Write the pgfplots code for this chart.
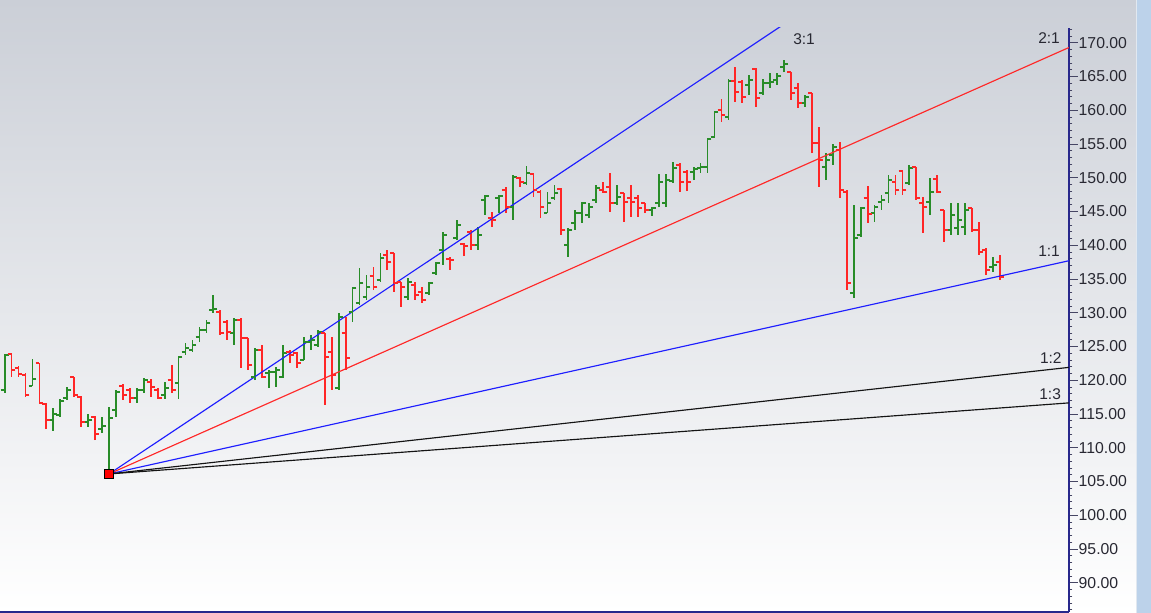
\documentclass[border=0pt]{standalone}
\usepackage{fontspec}
\setmainfont{Liberation Sans}
\usepackage{pgfplots}
\usepackage{pgfplotstable}
\pgfplotsset{compat=1.18}

\definecolor{upgreen}{RGB}{40,140,40}
\definecolor{downred}{RGB}{255,38,38}
\definecolor{fanblue}{RGB}{30,30,255}
\definecolor{fanred}{RGB}{255,40,40}
\definecolor{fanblack}{RGB}{20,20,20}
\definecolor{axisnavy}{RGB}{40,40,140}
\definecolor{tickgray}{RGB}{70,70,100}
\definecolor{bgtop}{RGB}{203,207,215}
\definecolor{strip}{RGB}{188,210,234}
\definecolor{stripedge}{RGB}{225,232,240}
\definecolor{labeltext}{RGB}{40,40,50}

% open tick (left) and close tick (right) of an OHLC bar
\pgfdeclareplotmark{tickleft}{%
  \pgfpathmoveto{\pgfqpoint{-\pgfplotmarksize}{0pt}}%
  \pgfpathlineto{\pgfqpoint{0pt}{0pt}}%
  \pgfusepathqstroke}
\pgfdeclareplotmark{tickright}{%
  \pgfpathmoveto{\pgfqpoint{\pgfplotmarksize}{0pt}}%
  \pgfpathlineto{\pgfqpoint{0pt}{0pt}}%
  \pgfusepathqstroke}

% bars that closed above their open
\pgfplotstableread{
i o h l c
0 118.55 123.89 118.11 123.74
4 119.14 123.14 119.14 120.18
7 114.11 115.89 112.48 115.00
8 114.85 117.22 114.55 116.92
9 117.37 119.00 117.07 118.55
12 113.81 115.00 113.07 114.11
14 112.77 114.55 112.18 113.22
15 106.70 116.03 106.11 114.40
16 115.59 118.55 114.55 118.26
19 117.37 118.85 116.63 118.55
20 118.55 120.33 118.11 120.03
23 117.81 119.74 117.22 118.85
25 119.59 123.59 117.22 123.44
26 124.18 125.52 123.74 124.77
27 124.48 125.96 124.18 125.22
28 126.40 127.89 125.66 127.44
29 127.44 128.92 127.00 128.48
30 130.40 132.63 129.96 130.55
33 127.00 129.22 125.22 128.92
36 120.48 124.77 120.03 124.48
38 121.07 121.52 118.85 121.22
39 121.22 121.96 119.00 121.52
40 120.48 125.22 120.33 124.03
43 123.00 126.40 123.00 125.66
44 125.66 126.70 124.48 125.96
45 125.22 127.44 124.92 127.14
48 118.85 129.96 118.55 129.37
50 130.11 133.81 128.63 133.66
51 131.44 136.63 131.14 134.40
52 132.33 135.59 131.89 133.81
54 134.85 138.85 134.55 138.11
58 132.33 135.14 131.89 134.55
61 132.92 134.55 132.63 134.40
62 135.89 137.52 135.59 137.37
63 139.29 141.96 137.07 141.52
65 141.07 143.74 140.77 143.00
68 140.03 142.70 139.29 141.52
69 146.70 147.44 144.48 147.29
71 147.00 147.44 144.77 147.29
73 145.66 150.40 143.74 150.11
75 149.22 151.74 148.92 150.70
78 144.77 147.89 144.77 146.26
79 147.00 148.92 146.70 147.74
81 140.03 142.55 138.26 142.26
82 143.29 145.22 142.26 144.77
83 144.77 146.40 143.29 146.26
84 144.48 146.26 144.03 145.66
85 146.70 148.92 146.26 148.48
88 146.26 148.92 145.96 147.14
93 145.22 145.66 144.33 145.52
94 146.26 150.55 145.66 149.37
95 146.26 150.55 145.66 149.66
96 149.51 152.33 149.22 151.44
99 150.85 151.59 149.66 151.29
100 151.44 152.18 150.70 151.59
101 151.59 155.89 150.70 155.74
102 156.03 159.89 155.89 159.74
104 159.00 164.63 158.55 164.33
107 163.74 165.22 162.26 164.48
109 162.55 164.63 162.26 164.03
110 164.03 165.52 163.29 164.18
111 164.48 165.52 163.74 165.07
112 166.40 167.44 165.66 166.85
115 161.07 162.26 160.48 161.96
118 151.59 153.66 149.66 152.63
119 153.37 155.00 151.89 154.55
122 132.92 145.96 132.18 141.07
123 141.52 145.66 141.22 145.52
125 144.77 145.96 143.44 145.66
126 146.40 147.44 145.22 146.70
127 147.74 150.40 146.26 149.66
130 149.22 151.89 148.92 151.44
133 146.40 149.96 144.48 147.89
136 142.26 146.26 141.52 144.48
137 142.55 146.26 141.52 143.74
138 142.70 146.26 141.52 145.22
142 136.77 138.26 136.03 137.07
}\upbars

% bars that closed below their open
\pgfplotstableread{
i o h l c
1 123.89 123.89 120.48 121.52
2 121.81 122.11 120.48 120.92
3 120.77 121.07 117.52 117.81
5 122.55 122.55 116.63 116.63
6 116.48 116.63 112.77 114.11
10 120.48 120.48 117.52 117.81
11 117.52 117.67 113.07 113.81
13 114.55 114.70 111.14 112.03
17 119.14 119.44 117.07 117.81
18 118.55 118.85 116.63 117.37
21 119.74 120.18 117.52 119.00
22 118.55 118.85 117.22 117.37
24 120.03 122.26 118.11 118.55
31 130.11 130.40 126.70 127.00
32 128.63 128.92 125.96 127.14
34 128.92 129.22 121.81 126.26
35 126.26 126.26 121.52 122.26
37 124.48 125.22 120.33 120.48
41 124.18 124.48 122.55 123.74
42 124.03 124.18 121.81 122.55
46 127.00 127.00 116.33 123.44
47 124.18 126.40 118.55 120.77
49 127.00 129.37 121.52 123.29
53 135.44 136.77 133.37 133.81
55 138.55 139.29 136.33 137.52
56 138.85 138.85 133.07 134.40
57 134.55 134.55 130.85 133.81
59 134.11 134.55 131.89 132.63
60 133.07 133.81 131.44 131.89
64 137.96 138.26 136.33 137.81
66 140.18 140.33 138.40 139.89
67 141.96 142.26 139.29 140.03
70 144.03 144.92 142.70 143.74
72 148.18 148.63 144.77 145.66
74 149.96 150.11 148.63 149.37
76 150.55 150.70 147.14 148.18
77 147.89 148.18 144.03 145.66
80 148.33 148.48 141.52 142.26
86 148.18 149.37 147.74 147.89
87 148.63 150.70 144.92 146.26
89 147.74 147.74 143.44 146.40
90 147.00 148.92 144.18 146.40
91 147.00 147.44 144.18 145.52
92 146.26 146.26 144.77 145.22
97 151.89 152.18 147.89 149.37
98 150.85 151.14 148.03 149.37
103 160.03 161.66 158.26 159.29
105 164.33 166.40 161.22 162.70
106 164.18 164.48 161.07 161.96
108 166.11 166.26 160.48 161.81
113 165.66 165.66 161.52 162.55
114 163.29 164.03 160.33 161.07
116 162.55 162.55 153.66 155.14
117 155.14 157.52 148.63 152.63
120 154.11 155.29 147.00 148.18
121 147.89 148.18 133.37 134.40
124 147.00 148.77 143.29 144.63
128 149.37 150.40 147.44 148.18
129 151.00 151.14 147.44 148.18
131 151.59 151.59 146.70 147.00
132 146.26 147.14 141.81 145.66
134 149.81 150.40 147.74 147.89
135 145.22 145.22 140.48 142.26
139 145.52 145.52 141.96 142.26
140 142.26 143.44 138.55 139.00
141 139.29 139.59 135.59 136.33
143 137.52 138.55 134.85 135.29
}\downbars

\begin{document}
\begin{tikzpicture}
\useasboundingbox (0bp,0bp) rectangle (1151bp,613bp);
\shade[top color=bgtop, bottom color=white] (0bp,0bp) rectangle (1151bp,613bp);
\fill[strip] (1137bp,0bp) rectangle (1151bp,613bp);
\draw[stripedge, line width=1.2bp] (1136.4bp,0bp) -- (1136.4bp,613bp);
\begin{axis}[
  at={(0bp,1bp)}, anchor=south west,
  width=1069bp, height=584bp, scale only axis,
  xmin=-0.661, xmax=152.93,
  ymin=85.66, ymax=172.18,
  axis x line*=bottom, axis y line*=right,
  x axis line style={-, draw=axisnavy, line width=2bp},
  y axis line style={-, draw=axisnavy, line width=1.4bp},
  xtick=\empty,
  ytick={90,95,...,170},
  minor ytick={86,...,172},
  tick align=outside,
  major tick length=9bp, minor tick length=3.5bp,
  every tick/.style={draw=tickgray, line width=0.9bp},
  /pgf/number format/assume math mode=true,
  yticklabel style={
    font=\fontsize{15.8bp}{16bp}\selectfont, text=labeltext, inner sep=0.5bp,
    /pgf/number format/fixed, /pgf/number format/fixed zerofill,
    /pgf/number format/precision=2},
  every axis plot/.append style={line cap=butt},
]
% high-low ranges
\addplot[draw=none, mark=none, forget plot,
  error bars/.cd, y dir=plus, y explicit, error mark=none,
  error bar style={draw=upgreen, line width=1.8bp}]
  table[x=i, y=l, y error expr=\thisrow{h}-\thisrow{l}] {\upbars};
\addplot[draw=none, mark=none, forget plot,
  error bars/.cd, y dir=plus, y explicit, error mark=none,
  error bar style={draw=downred, line width=1.8bp}]
  table[x=i, y=l, y error expr=\thisrow{h}-\thisrow{l}] {\downbars};
% open and close ticks
\addplot[only marks, mark=tickleft, mark size=3.9bp,
  mark options={draw=upgreen, line width=1.8bp}] table[x=i, y=o] {\upbars};
\addplot[only marks, mark=tickright, mark size=3.9bp,
  mark options={draw=upgreen, line width=1.8bp}] table[x=i, y=c] {\upbars};
\addplot[only marks, mark=tickleft, mark size=3.9bp,
  mark options={draw=downred, line width=1.8bp}] table[x=i, y=o] {\downbars};
\addplot[only marks, mark=tickright, mark size=3.9bp,
  mark options={draw=downred, line width=1.8bp}] table[x=i, y=c] {\downbars};
% Gann fan from the swing low
\addplot[fanblue, line width=1.15bp] coordinates {(15,106.11) (152.93,200.88)};
\addplot[fanred, line width=1.15bp] coordinates {(15,106.11) (152.93,169.29)};
\addplot[fanblue, line width=1.15bp] coordinates {(15,106.11) (152.93,137.70)};
\addplot[fanblack, line width=1.15bp] coordinates {(15,106.11) (152.93,121.90)};
\addplot[fanblack, line width=1.15bp] coordinates {(15,106.11) (152.93,116.64)};
\addplot[only marks, mark=square*, mark size=4.2bp,
  mark options={fill=red, draw=black, line width=1bp}] coordinates {(15,106.11)};
% fan labels
\begin{scope}[every node/.style={font=\fontsize{15.5bp}{16bp}\selectfont, text=labeltext, inner sep=0pt, anchor=east}]
\node at (axis cs:116.44,170.55) {3:1};
\node at (axis cs:151.64,170.70) {2:1};
\node at (axis cs:151.64,139.14) {1:1};
\node at (axis cs:151.90,123.29) {1:2};
\node at (axis cs:151.80,117.96) {1:3};
\end{scope}
\end{axis}
\end{tikzpicture}
\end{document}
